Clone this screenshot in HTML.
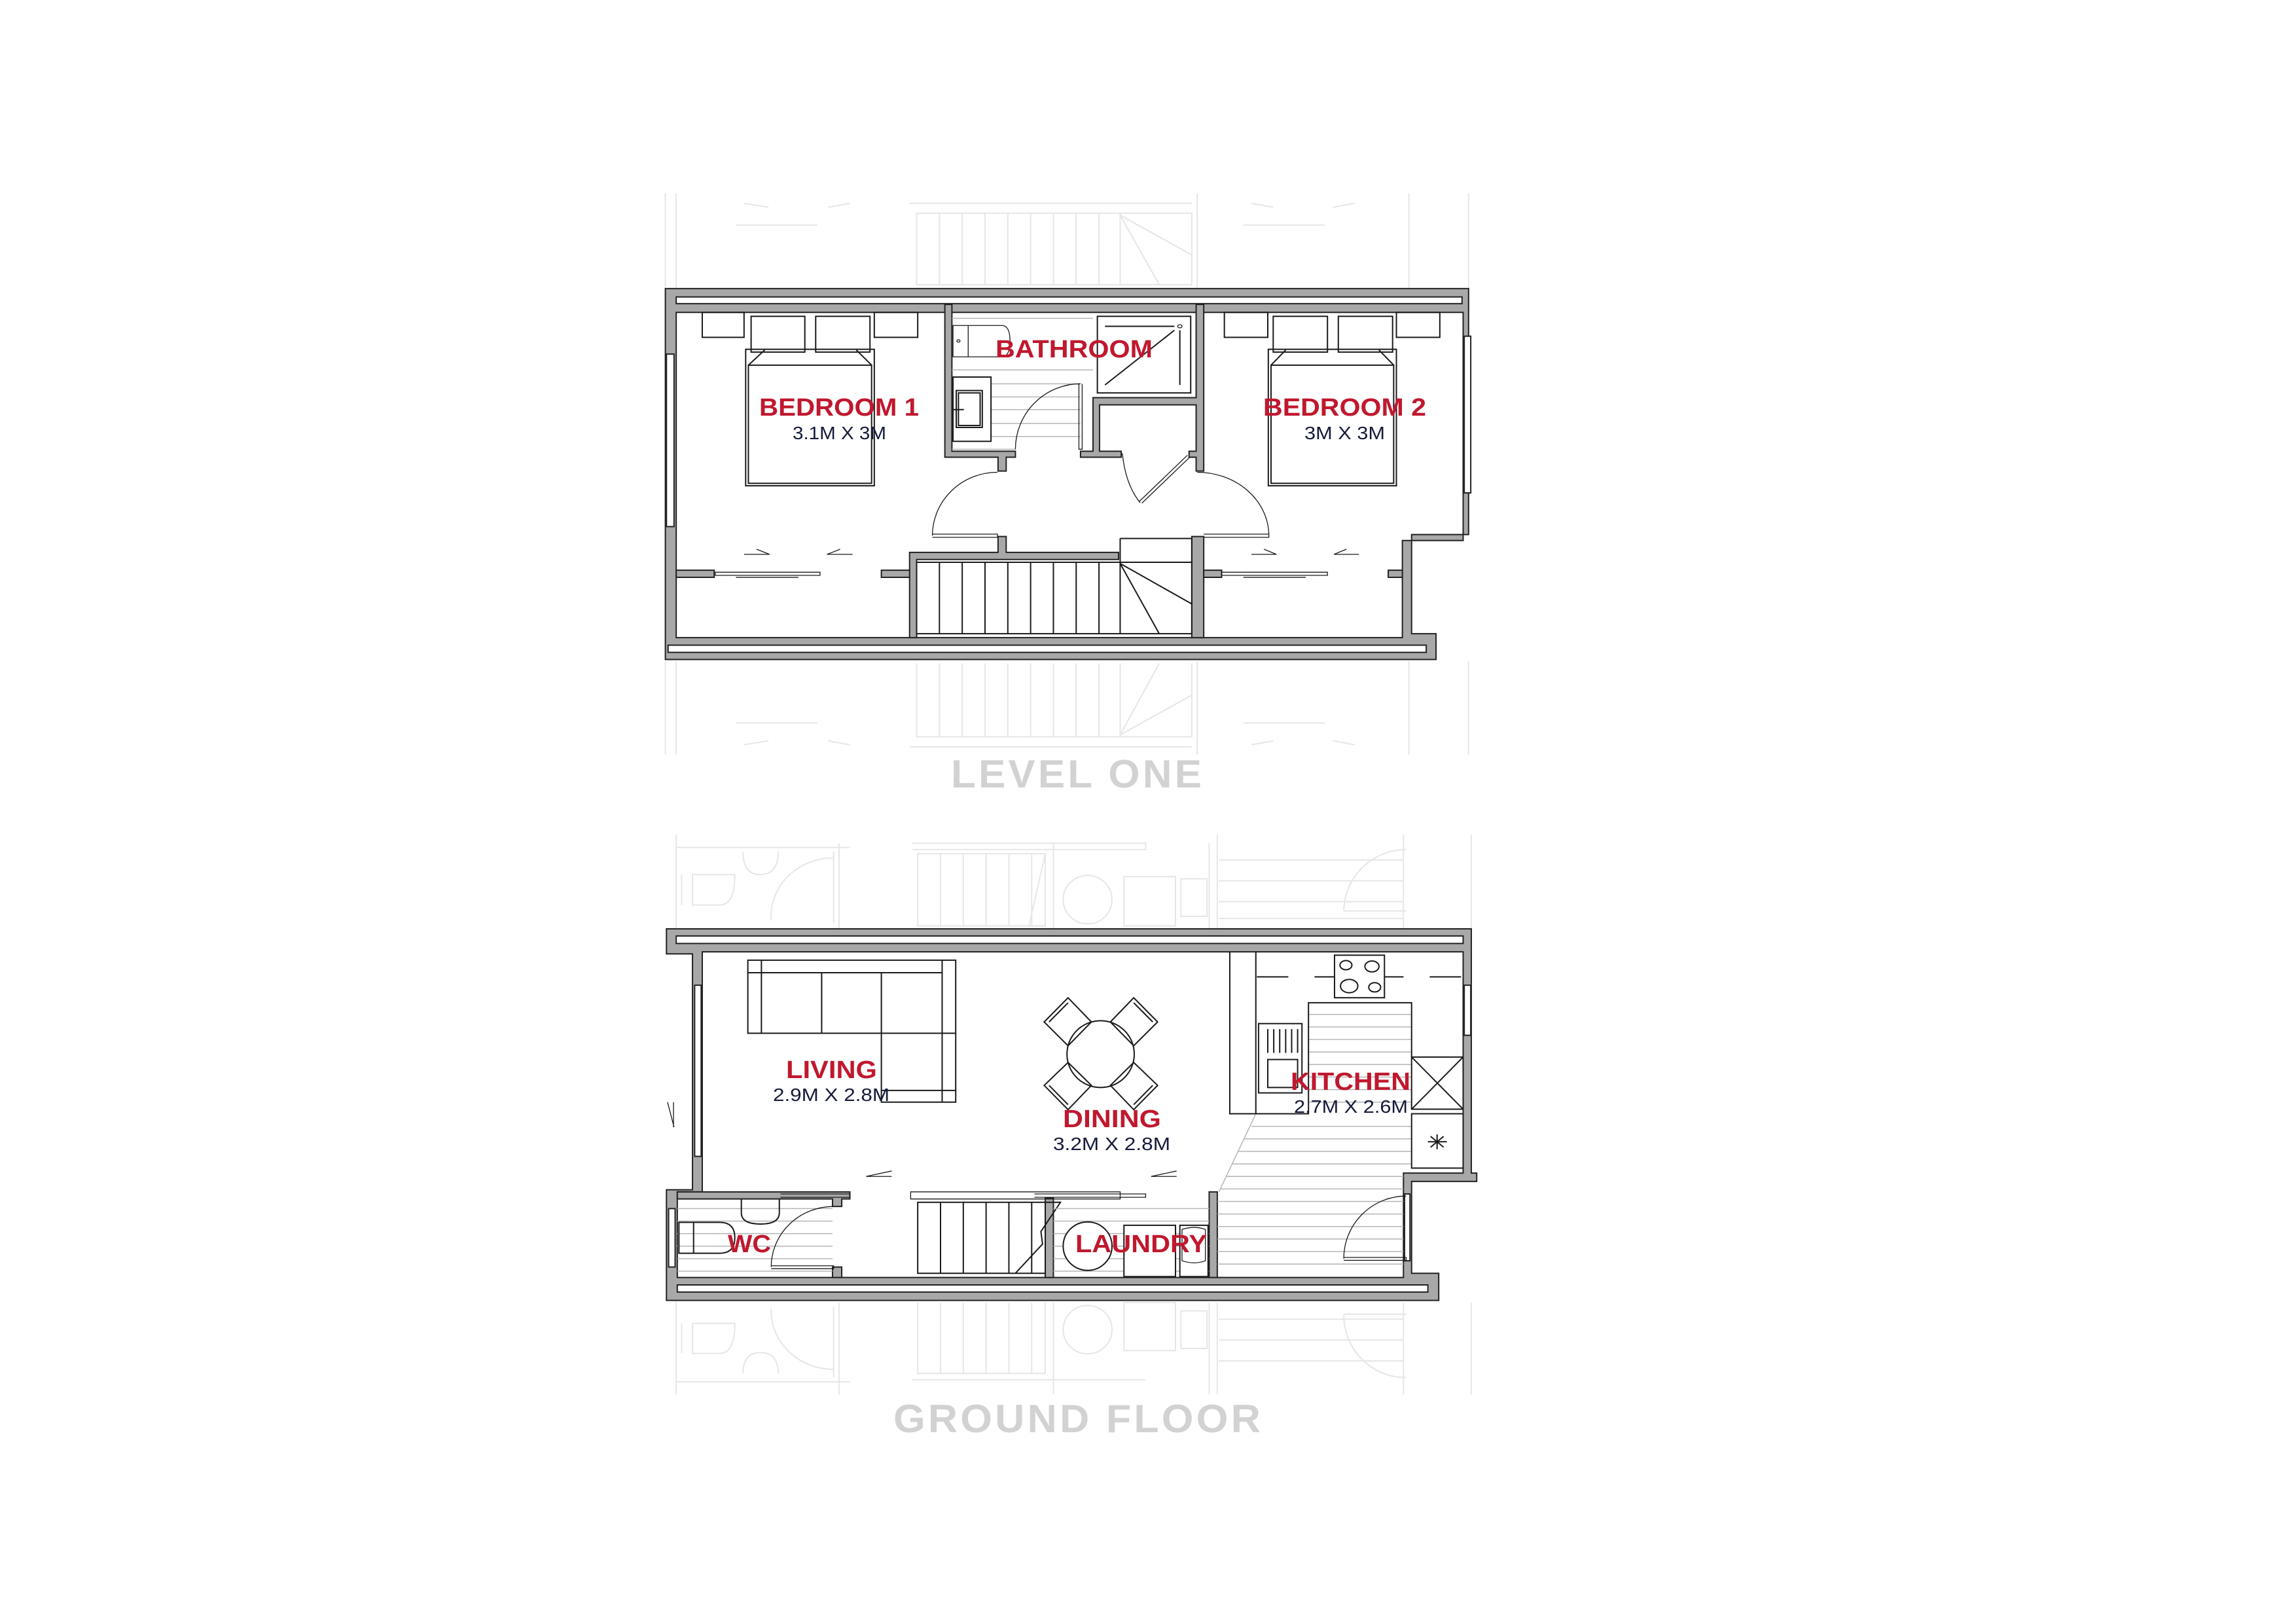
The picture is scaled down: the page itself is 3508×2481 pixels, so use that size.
<!DOCTYPE html>
<html><head><meta charset="utf-8"><style>
html,body{margin:0;padding:0;background:#fff;}
svg{display:block;}
.w{fill:#a8a8a8;stroke:#222;stroke-width:2;vector-effect:non-scaling-stroke}
.ws{fill:#fff;stroke:#222;stroke-width:2;vector-effect:non-scaling-stroke}
.l{fill:none;stroke:#1a1a1a;stroke-width:2;vector-effect:non-scaling-stroke}
.t{fill:none;stroke:#1a1a1a;stroke-width:1.3;vector-effect:non-scaling-stroke}
.h{fill:none;stroke:#b5b5b5;stroke-width:1.5;vector-effect:non-scaling-stroke}
.g{fill:none;stroke:#e6e6e6;stroke-width:2;vector-effect:non-scaling-stroke}
.gw{fill:#f4f4f4;stroke:#e2e2e2;stroke-width:2;vector-effect:non-scaling-stroke}
.r{font-family:"Liberation Sans",sans-serif;font-weight:bold;fill:#c0182e;font-size:38px}
.d{font-family:"Liberation Sans",sans-serif;fill:#151a3a;font-size:28px}
.big{font-family:"Liberation Sans",sans-serif;font-weight:bold;fill:#d2d2d2;font-size:60px;letter-spacing:4px}
</style></head><body>
<svg width="3508" height="2481" viewBox="0 0 3508 2481" xmlns="http://www.w3.org/2000/svg">
<rect width="3508" height="2481" fill="#fff"/>

<!-- LEVEL ONE -->
<g transform="translate(1000,250) scale(0.8292,0.606)">
 <path class="g" d="M40 75V315 M470 100H990 M483 125V305H990V125H483 M525 125V305 M567 125V305 M609 125V305 M651 125V305 M693 125V305 M735 125V305 M777 125V305 M819 125V305 M858 125V305 M858 130L990 230 M858 130L930 305 M1000 75V315 M1390 75V315 M150 155H300 M1085 155H1235 M20 75V315 M1500 75V315 M165 100L210 110 M320 110L360 100 M1100 100L1140 110 M1250 110L1290 100"/>
 <path class="g" d="M40 1255V1490 M483 1260V1445H990V1260 M525 1260V1445 M567 1260V1445 M609 1260V1445 M651 1260V1445 M693 1260V1445 M735 1260V1445 M777 1260V1445 M819 1260V1445 M858 1260V1445 M858 1440L990 1340 M858 1440L930 1260 M470 1470H990 M1000 1255V1490 M1390 1255V1490 M150 1410H300 M1085 1410H1235 M20 1255V1490 M1500 1255V1490 M165 1465L210 1455 M320 1455L360 1465 M1100 1465L1140 1455 M1250 1455L1290 1465"/>
 <path class="w" d="M20 315H1500V935H1395V1185H1440V1250H20Z M40 375V1195H1378V950H1490V375Z" fill-rule="evenodd"/>
 <rect class="ws" x="40" y="336" width="1448" height="17"/>
 <rect class="ws" x="25" y="1214" width="1397" height="18"/>
 <rect class="ws" x="22" y="480" width="14" height="435"/>
 <rect class="ws" x="1492" y="435" width="12" height="395"/>
 <path class="w" d="M535 355H548V725H665V740H648V775H633V740H535Z"/>
 <path class="w" d="M785 725H808V590H998V355H1012V775H998V740H985V725H998V608H820V725H860V740H785Z"/>
 <path class="w" d="M470 980H633V940H648V980H855V998H483V1195H470Z"/>
 <path class="w" d="M990 940H1012V1195H990Z"/>
 <path class="w" d="M40 1025H110V1043H40Z M418 1025H470V1043H418Z M1012 1025H1045V1043H1012Z M1352 1025H1378V1043H1352Z"/>
 <path class="l" d="M483 1005H990V1185H483Z M525 1005V1185 M567 1005V1185 M609 1005V1185 M651 1005V1185 M693 1005V1185 M735 1005V1185 M777 1005V1185 M819 1005V1185 M858 1005V1185 M858 1008L990 1110 M858 1008L930 1185 M858 945H990V1008 M858 945V1005"/>
 <path class="l" d="M168 468H405V812H168Z M173 508H400V806H173Z M173 508L203 470 M400 508L372 470 M178 385H277V475H178Z M297 385H397V475H297Z M88 375H165V438H88Z M405 375H485V438H405Z"/>
 <path class="l" d="M1131 468H1367V812H1131Z M1136 508H1362V806H1136Z M1136 508L1163 470 M1362 508L1335 470 M1140 385H1240V475H1140Z M1260 385H1360V475H1260Z M1050 375H1130V438H1050Z M1367 375H1447V438H1367Z"/>
 <path class="t" d="M165 985H212L188 972 M365 985H318L342 972 M112 1030H305V1038H112Z M150 1043H265 M1100 985H1146L1123 972 M1298 985H1252L1275 972 M1045 1030H1240V1038H1045Z M1085 1043H1200"/>
 <path class="h" d="M548 390H808 M548 520H808 M620 555H785 M620 588H785 M620 620H785 M620 655H785 M620 688H785 M548 720H665"/>
 <path class="t" d="M550 408H640Q655 408 655 447Q655 487 640 487H550Z M578 408V487"/>
 <circle class="t" cx="560" cy="447" r="3"/>
 <path class="l" d="M550 538H620V700H550Z M556 572H604V665H556Z M560 578H600V660H560Z M548 620H570"/>
 <path class="l" d="M816 385H988V578H816Z M830 410H958 M968 420V558 M830 558L958 420"/>
 <circle class="t" cx="968" cy="410" r="4"/>
 <path class="t" d="M665 720A120 165 0 0 1 785 555 M782 555V720H788V555"/>
 <path class="t" d="M632 778A120 160 0 0 0 512 938 M512 934H632V942H512"/>
 <path class="t" d="M1000 778A132 160 0 0 1 1132 938 M1012 934H1132V942H1012"/>
 <path class="t" d="M862 730Q868 810 895 855 M893 852L982 735 M898 856L987 739"/>
</g>
<text class="r" x="1521" y="546" textLength="240" lengthAdjust="spacingAndGlyphs">BATHROOM</text>
<text class="r" x="1160" y="635" textLength="244" lengthAdjust="spacingAndGlyphs">BEDROOM 1</text>
<text class="d" x="1211" y="671" textLength="143" lengthAdjust="spacingAndGlyphs">3.1M X 3M</text>
<text class="r" x="1930" y="635" textLength="249" lengthAdjust="spacingAndGlyphs">BEDROOM 2</text>
<text class="d" x="1993" y="671" textLength="123" lengthAdjust="spacingAndGlyphs">3M X 3M</text>
<text class="big" x="1453" y="1203" textLength="387" lengthAdjust="spacingAndGlyphs">LEVEL ONE</text>

<!-- GROUND FLOOR -->
<g transform="translate(1000,1250) scale(0.8292,0.6378)">
 <path class="g" d="M40 40V265 M485 85H720V258H485Z M527 85V258 M569 85V258 M611 85V258 M653 85V258 M695 85V258 M720 85L690 258 M735 60V265 M475 60H905V75H475 M1022 60V265 M1037 40V265 M1380 40V265 M1505 40V265 M40 70H360 M330 80V250 M215 245A115 140 0 0 1 330 95 M1270 220A115 150 0 0 1 1385 75 M1270 222H1385 M1040 100H1380 M1040 150H1380 M1040 200H1380 M1040 240H1380 M340 60V265"/>
 <path class="g" d="M70 135H148Q148 208 120 208H70Z M50 135V208 M163 80Q163 135 195 135Q228 135 228 80"/>
 <ellipse class="g" cx="798" cy="195" rx="45" ry="58"/>
 <path class="g" d="M865 140H960V258H865Z M970 145H1018V235H970Z"/>
 <path class="g" d="M40 1155V1380 M485 1160V1330H720 M527 1160V1330 M569 1160V1330 M611 1160V1330 M653 1160V1330 M695 1160V1330 M720 1160V1330 M475 1345H905 M735 1160V1380 M1022 1160V1380 M1037 1160V1380 M1380 1160V1380 M1505 1160V1380 M40 1350H360 M330 1170V1340 M215 1175A115 140 0 0 0 330 1320 M1270 1190A115 150 0 0 0 1385 1340 M1270 1188H1385 M1040 1200H1380 M1040 1250H1380 M1040 1300H1380 M340 1160V1380"/>
 <path class="g" d="M70 1210H148Q148 1282 120 1282H70Z M50 1210V1282 M163 1330Q163 1280 195 1280Q228 1280 228 1330"/>
 <ellipse class="g" cx="798" cy="1225" rx="45" ry="58"/>
 <path class="g" d="M865 1160H960V1275H865Z M970 1180H1018V1270H970Z"/>
 <path class="w" d="M22 265H1505V850H1515V870H1395V1090H1445V1155H22V890H70V325H22Z M88 320V895H42V1100H1380V850H1490V320Z" fill-rule="evenodd"/>
 <rect class="ws" x="40" y="282" width="1450" height="18"/>
 <rect class="ws" x="42" y="1118" width="1383" height="17"/>
 <rect class="ws" x="74" y="400" width="12" height="410"/>
 <rect class="ws" x="1492" y="400" width="12" height="120"/>
 <rect class="ws" x="1382" y="900" width="10" height="160"/>
 <rect class="ws" x="26" y="935" width="12" height="140"/>
 <path class="t" d="M24 680L36 740 M35 680V740"/>
 <path class="w" d="M42 895H360V912H345V930H328V912H42Z M328 1075H345V1100H328Z"/>
 <path class="w" d="M720 910H735V1100H720Z M1022 895H1037V1100H1022Z"/>
 <path class="t" d="M472 895H858V912H472Z M700 900H905V908H700 M232 900H360V908H232"/>
 <path class="t" d="M390 858L437 845 M390 858H437 M915 858L962 845 M915 858H962"/>
 <path class="l" d="M485 920H720V1090H485Z M527 920V1090 M569 920V1090 M611 920V1090 M653 920V1090 M695 920V1090 M695 920L748 920L712 990L715 1020L665 1090"/>
 <path class="h" d="M42 935H328 M42 965H328 M42 995H328 M42 1025H328 M42 1055H328 M42 1085H328"/>
 <path class="l" d="M72 968H120Q148 968 148 1005Q148 1042 120 1042H72Z M45 968H72V1042H45Z M160 912V945Q160 972 195 972Q230 972 230 945V912"/>
 <path class="t" d="M330 930A115 145 0 0 0 215 1075 M215 1072H330V1079H215"/>
 <path class="h" d="M735 935H1022 M735 965H1022 M735 995H1022 M735 1025H1022 M735 1055H1022 M735 1085H1022"/>
 <ellipse class="l" cx="798" cy="1025" rx="45" ry="58" style="fill:#fff"/>
 <path class="l" d="M865 975H960V1098H865Z M968 975H1020V1098H968Z" style="fill:#fff"/>
 <path class="t" d="M972 985Q995 975 1015 985V1060Q995 1070 972 1060Z"/>
 <path class="l" d="M172 340H555V680H418V515H172Z M172 370H530V680 M197 340V515 M308 370V515 M418 370V515 M418 515H555 M418 652H555 M530 340V370"/>
 <ellipse class="l" cx="822" cy="565" rx="62" ry="80"/>
 <path class="l" d="M718 488L762 430L805 488L762 545Z M727 488L762 442 M840 488L883 430L927 488L883 545Z M918 488L883 442 M718 640L762 585L805 640L762 698Z M727 640L762 686 M840 640L883 585L927 640L883 698Z M918 640L883 686"/>
 <path class="h" d="M1205 470H1395 M1205 500H1395 M1205 530H1395 M1205 560H1395 M1205 590H1395 M1205 620H1395 M1205 650H1395 M1205 680H1395 M1100 738H1395 M1087 768H1395 M1076 798H1395 M1065 828H1395 M1054 858H1380 M1043 888H1380 M1037 918H1380 M1037 948H1380 M1037 978H1380 M1037 1008H1380 M1037 1038H1380 M1037 1068H1380 M1108 708L1040 895"/>
 <path class="l" d="M1060 320V708H1205V442H1395V572 M1108 320V708"/>
 <path class="l" d="M1110 380H1490" style="stroke-dasharray:48 40"/>
 <rect class="l" x="1253" y="328" width="92" height="102" style="fill:#fff"/>
 <circle class="l" cx="1274" cy="352" r="11"/><circle class="l" cx="1322" cy="355" r="13"/>
 <circle class="l" cx="1280" cy="402" r="16"/><circle class="l" cx="1327" cy="405" r="11"/>
 <path class="l" d="M1113 492H1193V658H1113Z M1130 505V562 M1141 505V562 M1152 505V562 M1163 505V562 M1174 505V562 M1185 505V562 M1130 578H1185V645H1130Z"/>
 <path class="l" d="M1395 572H1490V697H1395Z M1395 572L1490 697 M1490 572L1395 697 M1395 708H1490V838H1395Z M1425 775H1460 M1442 757V793 M1430 762L1454 788 M1454 762L1430 788"/>
 <path class="t" d="M1385 905A115 150 0 0 0 1270 1055 M1270 1052H1385V1059H1270"/>
</g>
<text class="r" x="1201" y="1647" textLength="139" lengthAdjust="spacingAndGlyphs">LIVING</text>
<text class="d" x="1181" y="1682" textLength="178" lengthAdjust="spacingAndGlyphs">2.9M X 2.8M</text>
<text class="r" x="1624" y="1722" textLength="150" lengthAdjust="spacingAndGlyphs">DINING</text>
<text class="d" x="1609" y="1757" textLength="179" lengthAdjust="spacingAndGlyphs">3.2M X 2.8M</text>
<text class="r" x="1972" y="1665" textLength="183" lengthAdjust="spacingAndGlyphs">KITCHEN</text>
<text class="d" x="1977" y="1700" textLength="174" lengthAdjust="spacingAndGlyphs">2.7M X 2.6M</text>
<text class="r" x="1112" y="1913" textLength="66" lengthAdjust="spacingAndGlyphs">WC</text>
<text class="r" x="1643" y="1913" textLength="201" lengthAdjust="spacingAndGlyphs">LAUNDRY</text>
<text class="big" x="1365" y="2188" textLength="565" lengthAdjust="spacingAndGlyphs">GROUND FLOOR</text>
</svg>
</body></html>
